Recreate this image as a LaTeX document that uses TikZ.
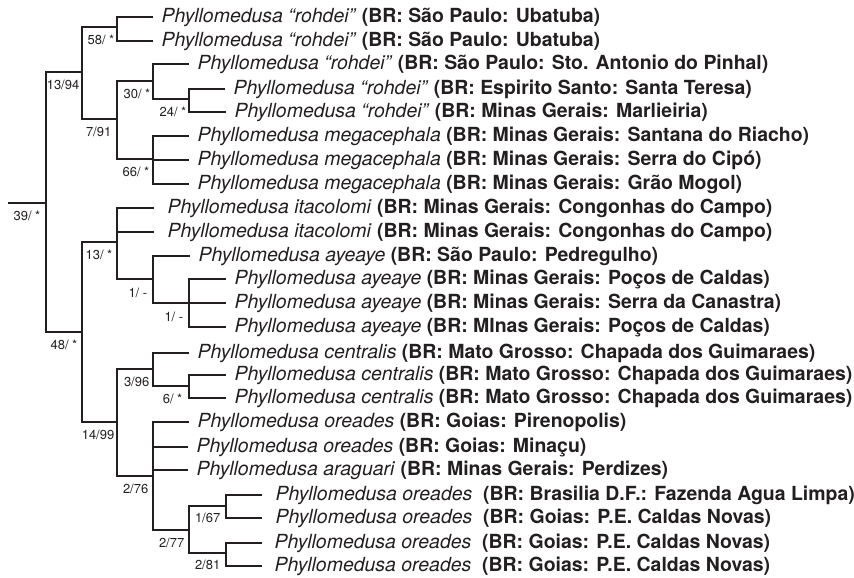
\documentclass[tikz,border=0pt]{standalone}
\usepackage{fontspec}
\setmainfont{TeX Gyre Heros}
\usetikzlibrary{positioning}

\definecolor{ink}{HTML}{231F20}
\newcommand{\phyllo}[1]{\textit{Phyllomedusa #1}}
\newcommand{\locality}[1]{\textbf{(BR: #1)}}

\begin{document}
\begin{tikzpicture}[x=1pt,y=-1pt,line width=1.4pt,color=ink]
    % Tree TiKZ Styles
    \tikzstyle{tip}=[anchor=west,inner ysep=0pt,inner xsep=8pt,text height=14.5pt,text depth=3.5pt,font=\fontsize{19.45}{23}\selectfont]
    \tikzstyle{support}=[inner sep=0pt,font=\fontsize{13}{15}\selectfont]
    \tikzstyle{branch}=[to path={|- (\tikztotarget)}]

    \useasboundingbox (0,0) rectangle (854,578);

    % Internal nodes
    \coordinate (base) at (8,203);
    \coordinate (n_0)  at (46,203);
    \coordinate (n_1)  at (82,72);
    \coordinate (n_2)  at (117,27);
    \coordinate (n_3)  at (117,119);
    \coordinate (n_4)  at (153,81);
    \coordinate (n_5)  at (189,99);
    \coordinate (n_6)  at (153,159);
    \coordinate (n_7)  at (82,332);
    \coordinate (n_8)  at (117,242);
    \coordinate (n_9)  at (153,279);
    \coordinate (n_10) at (189,303);
    \coordinate (n_11) at (117,422);
    \coordinate (n_12) at (153,369);
    \coordinate (n_13) at (189,386);
    \coordinate (n_14) at (153,476);
    \coordinate (n_15) at (189,530);
    \coordinate (n_16) at (226,506);
    \coordinate (n_17) at (226,553);

    % Taxa, at the end of their branches
    \node[tip] (t_1)  at (153,17)  {\phyllo{“rohdei”} \locality{São Paulo: Ubatuba}};
    \node[tip] (t_2)  at (153,41)  {\phyllo{“rohdei”} \locality{São Paulo: Ubatuba}};
    \node[tip] (t_3)  at (189,64)  {\phyllo{“rohdei”} \locality{São Paulo: Sto. Antonio do Pinhal}};
    \node[tip] (t_4)  at (225,89)  {\phyllo{“rohdei”} \locality{Espirito Santo: Santa Teresa}};
    \node[tip] (t_5)  at (226,112) {\phyllo{“rohdei”} \locality{Minas Gerais: Marlieiria}};
    \node[tip] (t_6)  at (189,136) {\phyllo{megacephala} \locality{Minas Gerais: Santana do Riacho}};
    \node[tip] (t_7)  at (189,160) {\phyllo{megacephala} \locality{Minas Gerais: Serra do Cipó}};
    \node[tip] (t_8)  at (189,184) {\phyllo{megacephala} \locality{Minas Gerais: Grão Mogol}};
    \node[tip,inner xsep=13pt] (t_9)  at (154,208) {\phyllo{itacolomi} \locality{Minas Gerais: Congonhas do Campo}};
    \node[tip,inner xsep=13pt] (t_10) at (154,232) {\phyllo{itacolomi} \locality{Minas Gerais: Congonhas do Campo}};
    \node[tip] (t_11) at (190,256) {\phyllo{ayeaye} \locality{São Paulo: Pedregulho}};
    \node[tip] (t_12) at (226,279) {\phyllo{ayeaye} \locality{Minas Gerais: Poços de Caldas}};
    \node[tip] (t_13) at (226,303) {\phyllo{ayeaye} \locality{Minas Gerais: Serra da Canastra}};
    \node[tip] (t_14) at (226,327) {\phyllo{ayeaye} \locality{MInas Gerais: Poços de Caldas}};
    \node[tip] (t_15) at (189,353) {\phyllo{centralis} \locality{Mato Grosso: Chapada dos Guimaraes}};
    \node[tip] (t_16) at (226,375) {\phyllo{centralis} \locality{Mato Grosso: Chapada dos Guimaraes}};
    \node[tip] (t_17) at (226,398) {\phyllo{centralis} \locality{Mato Grosso: Chapada dos Guimaraes}};
    \node[tip] (t_18) at (189,422) {\phyllo{oreades} \locality{Goias: Pirenopolis}};
    \node[tip] (t_19) at (188,447) {\phyllo{oreades} \locality{Goias: Minaçu}};
    \node[tip] (t_20) at (188,470) {\phyllo{araguari} \locality{Minas Gerais: Perdizes}};
    \node[tip,inner xsep=13pt] (t_21) at (262,495) {\phyllo{oreades}\ \ \locality{Brasilia D.F.: Fazenda Agua Limpa}};
    \node[tip,inner xsep=13pt] (t_22) at (262,518) {\phyllo{oreades}\ \ \locality{Goias: P.E. Caldas Novas}};
    \node[tip,inner xsep=12pt] (t_23) at (262,543) {\phyllo{oreades}\ \ \locality{Goias: P.E. Caldas Novas}};
    \node[tip,inner xsep=12pt] (t_24) at (262,566) {\phyllo{oreades}\ \ \locality{Goias: P.E. Caldas Novas}};

    % Branches
    \path
    (base) edge (n_0)
    (n_0)  edge [branch] (n_1)
           edge [branch] (n_7)
    (n_1)  edge [branch] (n_2)
           edge [branch] (n_3)
    (n_2)  edge [branch] (t_1.west)
           edge [branch] (t_2.west)
    (n_3)  edge [branch] (n_4)
           edge [branch] (n_6)
    (n_4)  edge [branch] (t_3.west)
           edge [branch] (n_5)
    (n_5)  edge [branch] (t_4.west)
           edge [branch] (t_5.west)
    (n_6)  edge [branch] (t_6.west)
           edge [branch] (t_7.west)
           edge [branch] (t_8.west)
    (n_7)  edge [branch] (n_8)
           edge [branch] (n_11)
    (n_8)  edge [branch] (t_9.west)
           edge [branch] (t_10.west)
           edge [branch] (n_9)
    (n_9)  edge [branch] (t_11.west)
           edge [branch] (n_10)
    (n_10) edge [branch] (t_12.west)
           edge [branch] (t_13.west)
           edge [branch] (t_14.west)
    (n_11) edge [branch] (n_12)
           edge [branch] (n_14)
    (n_12) edge [branch] (t_15.west)
           edge [branch] (n_13)
    (n_13) edge [branch] (t_16.west)
           edge [branch] (t_17.west)
    (n_14) edge [branch] (t_18.west)
           edge [branch] (t_19.west)
           edge [branch] (t_20.west)
           edge [branch] (n_15)
    (n_15) edge [branch] (n_16)
           edge [branch] (n_17)
    (n_16) edge [branch] (t_21.west)
           edge [branch] (t_22.west)
    (n_17) edge [branch] (t_23.west)
           edge [branch] (t_24.west);

    % Support values, under the branch leading to each node
    \node[support,below left=7pt and 5pt of n_0]  (b_0)  {39/ *};
    \node[support,below left=7pt and 2pt of n_1]  (b_1)  {13/94};
    \node[support,below left=7pt and 2pt of n_2]  (b_2)  {58/ *};
    \node[support,below left=7pt and 5pt of n_3]  (b_3)  {7/91};
    \node[support,below left=7pt and 2pt of n_4]  (b_4)  {30/ *};
    \node[support,below left=7pt and 2pt of n_5]  (b_5)  {24/ *};
    \node[support,below left=7pt and 3pt of n_6]  (b_6)  {66/ *};
    \node[support,below left=7pt and 4pt of n_7]  (b_7)  {48/ *};
    \node[support,below left=7pt and 4pt of n_8]  (b_8)  {13/ *};
    \node[support,below left=8pt and 5pt of n_9]  (b_9)  {1/ -};
    \node[support,below left=8pt and 5pt of n_10] (b_10) {1/ -};
    \node[support,below left=7pt and 2pt of n_11] (b_11) {14/99};
    \node[support,below left=7pt and 3pt of n_12] (b_12) {3/96};
    \node[support,below left=7pt and 6pt of n_13] (b_13) {6/ *};
    \node[support,below left=7pt and 4pt of n_14] (b_14) {2/76};
    \node[support,below left=7pt and 4pt of n_15] (b_15) {2/77};
    \node[support,below left=6pt and 5pt of n_16] (b_16) {1/67};
    \node[support,below left=6pt and 5pt of n_17] (b_17) {2/81};

\end{tikzpicture}
\end{document}
